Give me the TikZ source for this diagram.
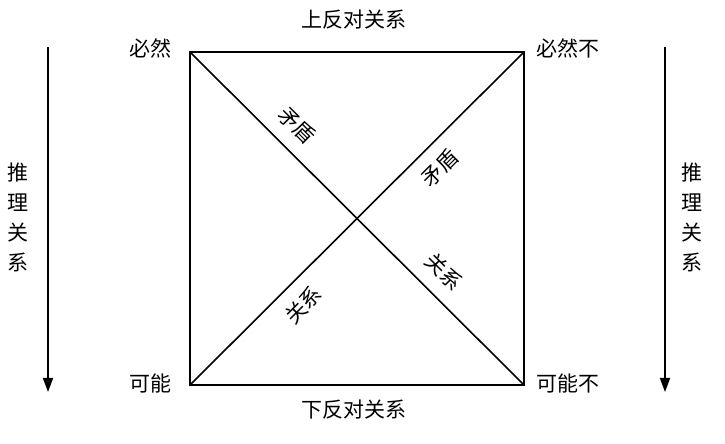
\documentclass[tikz,border=0pt]{standalone}
\usepackage{fontspec}
\setmainfont{Noto Sans CJK SC}
\usetikzlibrary{arrows.meta}

\begin{document}
\begin{tikzpicture}[x=1pt,y=1pt,
  edge/.style={line width=1.6pt},
  flow/.style={line width=1.6pt,-{Triangle[length=14pt,width=10pt]}},
  word/.style={inner sep=0pt,font=\fontsize{21}{25}\selectfont},
  diag/.style={word,sloped,inner sep=2pt}]
\useasboundingbox (0,0) rectangle (725,444);

%% Square %%
\coordinate (tl) at (190,392);
\coordinate (tr) at (524,392);
\coordinate (bl) at (190,59);
\coordinate (br) at (524,59);

\draw[edge] (tl) -- (tr) -- (br) -- (bl) -- cycle;
\draw[edge] (tl) -- (br)
  node[diag,above=11pt,pos=0.27] (mdA) {矛盾}
  node[diag,above=11pt,pos=0.71] (gxA) {关系};
\draw[edge] (bl) -- (tr)
  node[diag,below=11pt,pos=0.29] (gxB) {关系}
  node[diag,below=11pt,pos=0.70] (mdB) {矛盾};

%% Corners %%
\node[word,anchor=east] (bir) at (172,396) {必然};
\node[word,anchor=west] (birn) at (536,396) {必然不};
\node[word,anchor=east] (ken) at (172,61) {可能};
\node[word,anchor=west] (kenn) at (536,61) {可能不};

\node[word] (shang) at (354,424) {上反对关系};
\node[word] (xia) at (354,34) {下反对关系};

%% Arrows %%
\coordinate (la) at (48,397);
\coordinate (lb) at (48,52);
\coordinate (ra) at (665,397);
\coordinate (rb) at (665,52);
\draw[flow] (la) -- (lb);
\draw[flow] (ra) -- (rb);

\node[word,align=center,font=\fontsize{21}{30}\selectfont] (tuiL) at (18,227) {推\\理\\关\\系};
\node[word,align=center,font=\fontsize{21}{30}\selectfont] (tuiR) at (692,227) {推\\理\\关\\系};

\end{tikzpicture}
\end{document}
